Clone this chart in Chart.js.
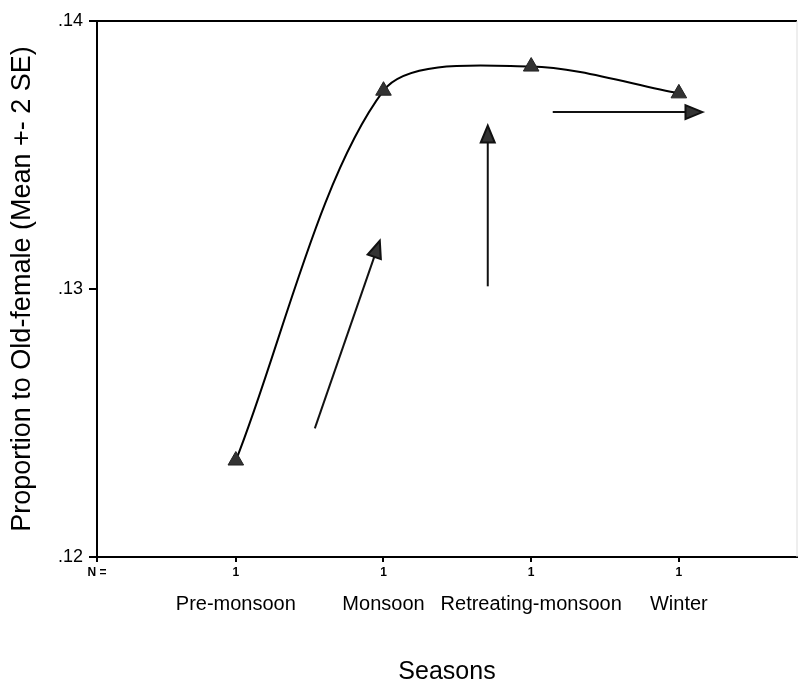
<!DOCTYPE html>
<html>
<head>
<meta charset="utf-8">
<script src="https://cdn.jsdelivr.net/npm/chart.js@4.4.0/dist/chart.umd.min.js"></script>
<style>
    html, body { margin: 0; padding: 0; background: #fff; }
    #wrap { width: 799px; height: 687px; }
</style>
</head>
<body>
<div id="wrap"><canvas id="seasonChart"></canvas></div>
<script>
// Chart data
const seasons = ['Pre-monsoon', 'Monsoon', 'Retreating-monsoon', 'Winter'];
const counts = [1, 1, 1, 1];
const meanProportion = [0.1236, 0.1374, 0.1383, 0.1373];
const yTicks = [0.12, 0.13, 0.14];
// hand drawn arrows on the scan, data units: [x0, y0, x1, y1]
const arrows = [
    [0.535, 0.1248, 0.975, 0.1318],
    [1.706, 0.1301, 1.706, 0.1361],
    [2.146, 0.1366, 3.16, 0.1366]
];

(function() {
    'use strict';

    const FONT = '"Liberation Sans", Arial, sans-serif';
    const X_MIN = -0.94, X_MAX = 3.8;

    // top + right border of the plot frame
    const framePlugin = {
        id: 'frame',
        beforeDatasetsDraw(chart) {
            const a = chart.chartArea, ctx = chart.ctx;
            ctx.save();
            ctx.strokeStyle = '#000';
            ctx.lineWidth = 2;
            ctx.beginPath();
            ctx.moveTo(a.left, a.top);
            ctx.lineTo(a.right, a.top);
            ctx.stroke();
            ctx.strokeStyle = '#ddd';
            ctx.lineWidth = 1;
            ctx.beginPath();
            ctx.moveTo(a.right, a.top);
            ctx.lineTo(a.right, a.bottom);
            ctx.stroke();
            ctx.restore();
        }
    };

    // arrows drawn through the scales
    const arrowPlugin = {
        id: 'arrows',
        afterDatasetsDraw(chart) {
            const xs = chart.scales.x, ys = chart.scales.y, ctx = chart.ctx;
            ctx.save();
            arrows.forEach(function(a) {
                const x0 = xs.getPixelForValue(a[0]), y0 = ys.getPixelForValue(a[1]);
                const x1 = xs.getPixelForValue(a[2]), y1 = ys.getPixelForValue(a[3]);
                const ang = Math.atan2(y1 - y0, x1 - x0);
                const len = 17, half = 7;
                const bx = x1 - len * Math.cos(ang), by = y1 - len * Math.sin(ang);
                ctx.strokeStyle = '#111';
                ctx.lineWidth = 2;
                ctx.beginPath();
                ctx.moveTo(x0, y0);
                ctx.lineTo(bx, by);
                ctx.stroke();
                ctx.fillStyle = '#333';
                ctx.beginPath();
                ctx.moveTo(x1, y1);
                ctx.lineTo(bx + half * Math.sin(ang), by - half * Math.cos(ang));
                ctx.lineTo(bx - half * Math.sin(ang), by + half * Math.cos(ang));
                ctx.closePath();
                ctx.fill();
                ctx.stroke();
            });
            ctx.restore();
        }
    };

    const ctx = document.getElementById('seasonChart');

    new Chart(ctx, {
        type: 'line',
        data: {
            datasets: [{
                data: seasons.map(function(s, i) { return { x: i, y: meanProportion[i] }; }),
                borderColor: '#000',
                borderWidth: 2,
                tension: 0.3,
                pointStyle: 'triangle',
                pointRadius: 9,
                pointBackgroundColor: '#333',
                pointBorderColor: '#222',
                pointBorderWidth: 1
            }]
        },
        options: {
            responsive: true,
            maintainAspectRatio: false,
            animation: false,
            events: [],
            layout: { autoPadding: false, padding: { top: 21, right: 2, left: 0, bottom: 0 } },
            plugins: {
                legend: { display: false },
                tooltip: { enabled: false }
            },
            scales: {
                x: {
                    type: 'linear',
                    weight: 0,
                    min: X_MIN,
                    max: X_MAX,
                    afterBuildTicks: function(scale) {
                        scale.ticks = [{ value: X_MIN }].concat(counts.map(function(c, i) { return { value: i }; }));
                    },
                    afterFit: function(scale) { scale.height = 30; },
                    ticks: {
                        autoSkip: false,
                        maxRotation: 0,
                        padding: 3,
                        color: '#000',
                        font: { family: FONT, size: 12, weight: 'bold' },
                        callback: function(v, i) { return i === 0 ? 'N =' : String(counts[i - 1]); }
                    },
                    grid: { drawOnChartArea: false, tickLength: 5, color: '#000', lineWidth: 2 },
                    border: { color: '#000', width: 2 }
                },
                x2: {
                    type: 'linear',
                    position: 'bottom',
                    weight: 1,
                    min: X_MIN,
                    max: X_MAX,
                    afterBuildTicks: function(scale) {
                        scale.ticks = seasons.map(function(s, i) { return { value: i }; });
                    },
                    afterFit: function(scale) { scale.height = 100; },
                    ticks: {
                        autoSkip: false,
                        maxRotation: 0,
                        padding: 5,
                        color: '#000',
                        font: { family: FONT, size: 20 },
                        callback: function(v, i) { return seasons[i]; }
                    },
                    grid: { display: false, drawTicks: false },
                    border: { display: false },
                    title: {
                        display: true,
                        text: 'Seasons',
                        color: '#000',
                        font: { family: FONT, size: 25 },
                        padding: { top: 0, bottom: 0 }
                    }
                },
                y: {
                    min: 0.12,
                    max: 0.14,
                    afterBuildTicks: function(scale) {
                        scale.ticks = yTicks.map(function(v) { return { value: v }; });
                    },
                    afterFit: function(scale) { scale.width = 97; },
                    ticks: {
                        padding: 6,
                        color: '#000',
                        font: { family: FONT, size: 18 },
                        callback: function(v) { return v.toFixed(2).replace(/^0/, ''); }
                    },
                    grid: { drawOnChartArea: false, tickLength: 8, color: '#000', lineWidth: 2 },
                    border: { color: '#000', width: 2 },
                    title: {
                        display: true,
                        text: 'Proportion to Old-female (Mean +- 2 SE)',
                        color: '#000',
                        font: { family: FONT, size: 27 },
                        padding: { top: 6, bottom: 0 }
                    }
                }
            }
        },
        plugins: [framePlugin, arrowPlugin]
    });
})();
</script>
</body>
</html>
